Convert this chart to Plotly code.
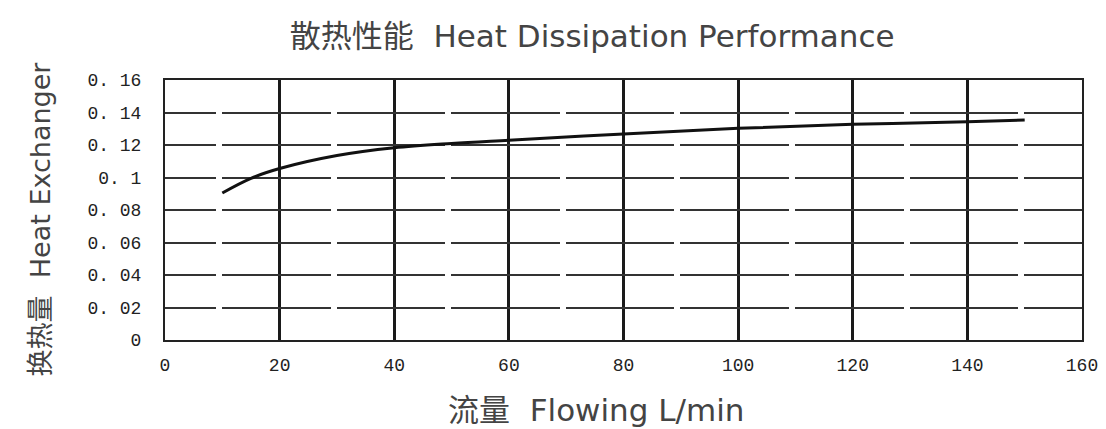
import plotly.graph_objects as go

# flow (L/min) vs heat exchanged
flow = [10, 15, 20, 30, 40, 50, 60, 80, 100, 120, 140, 150]
heat = [0.0905, 0.0995, 0.1055, 0.1135, 0.1183, 0.121, 0.123, 0.1268, 0.1303, 0.1327, 0.1343, 0.1354]

x_ticks = [0, 20, 40, 60, 80, 100, 120, 140, 160]
y_ticks = [0, 0.02, 0.04, 0.06, 0.08, 0.1, 0.12, 0.14, 0.16]
y_labels = ["0", "0. 02", "0. 04", "0. 06", "0. 08", "0. 1", "0. 12", "0. 14", "0. 16"]

fig = go.Figure(go.Scatter(
    x=flow, y=heat, mode="lines",
    line=dict(color="#111", width=3, shape="spline"),
    showlegend=False, hoverinfo="skip"
))

tick_font = dict(family="Liberation Mono, DejaVu Sans Mono, monospace", size=18, color="#222")
title_font = dict(family="DejaVu Sans, Noto Sans CJK SC, sans-serif", size=31, color="#444")

# horizontal grid dashes: gaps sit halfway between the vertical grid lines
grid_dash = ",".join(["51px", "6px"] + ["108.6px", "6px"] * 9)

fig.update_layout(
    width=1098, height=421,
    margin=dict(l=157, r=24, t=72, b=89),
    paper_bgcolor="white", plot_bgcolor="white",
    title=dict(text="散热性能  Heat Dissipation Performance", x=0.532, xanchor="center",
               y=0.933, yanchor="middle", font=title_font),
)

# axis titles sit off-centre in the original, so place them as annotations
fig.add_annotation(text="流量  Flowing L/min", xref="x domain", yref="y domain",
                   x=0.4695, y=-0.269, xanchor="center", yanchor="middle",
                   showarrow=False, font=title_font)
fig.add_annotation(text="换热量  Heat Exchanger", xref="x domain", yref="y domain",
                   x=-0.136, y=0.465, xanchor="center", yanchor="middle", textangle=-90,
                   showarrow=False, font=dict(title_font, size=27))

fig.update_xaxes(
    range=[0, 160], tickvals=x_ticks, ticktext=[str(v) for v in x_ticks],
    tickfont=tick_font, ticks="outside", ticklen=7, tickcolor="rgba(0,0,0,0)",
    showgrid=True, gridcolor="#1a1a1a", gridwidth=2.5, automargin=False,
    showline=True, linecolor="#222", linewidth=2, mirror=True, zeroline=False,
)
fig.update_yaxes(
    range=[0, 0.16], tickvals=y_ticks, ticktext=y_labels,
    tickfont=tick_font, ticks="outside", ticklen=18, tickcolor="rgba(0,0,0,0)",
    showgrid=True, gridcolor="#333", gridwidth=2, griddash=grid_dash, automargin=False,
    showline=True, linecolor="#222", linewidth=2, mirror=True, zeroline=False,
)

fig.write_html("out.html")
